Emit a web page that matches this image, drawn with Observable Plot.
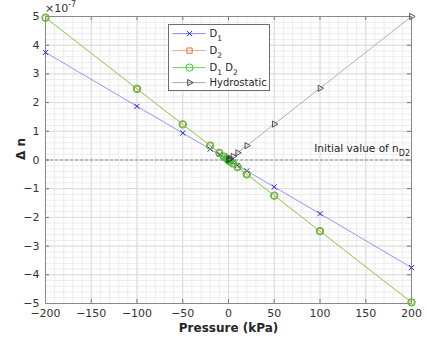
<!DOCTYPE html>
<html>
<head>
<meta charset="utf-8">
<script src="https://cdn.jsdelivr.net/npm/d3@7"></script>
<script src="https://cdn.jsdelivr.net/npm/@observablehq/plot@0.6"></script>
<style>
  html, body { margin: 0; padding: 0; background: #fff; }
  svg { display: block; }
</style>
</head>
<body>
<div id="chart"></div>
<script>
// Pressure in kPa; Δn values in units of 1e-7
const pressure = [-200, -100, -50, -20, -10, -5, -2, -1, 0, 1, 2, 5, 10, 20, 50, 100, 200];
const d1 =   [3.75, 1.87, 0.94, 0.38, 0.19, 0.09, 0.04, 0.02, 0, -0.02, -0.04, -0.09, -0.19, -0.38, -0.94, -1.87, -3.75];
const d2 =   [4.96, 2.48, 1.24, 0.50, 0.25, 0.12, 0.05, 0.025, 0, -0.025, -0.05, -0.12, -0.25, -0.50, -1.24, -2.48, -4.96];
const d1d2 = [4.96, 2.48, 1.24, 0.50, 0.25, 0.12, 0.05, 0.025, 0, -0.025, -0.05, -0.12, -0.25, -0.50, -1.24, -2.48, -4.96];
const hydroPressure = [0, 1, 2, 5, 10, 20, 50, 100, 200];
const hydro = [0, 0.025, 0.05, 0.125, 0.25, 0.5, 1.25, 2.5, 5.0];

const xTicks = [-200, -150, -100, -50, 0, 50, 100, 150, 200];
const yTicks = [-5, -4, -3, -2, -1, 0, 1, 2, 3, 4, 5];
const xMinor = d3.range(-200, 201, 10);
const yMinor = d3.range(-5, 5.001, 0.2).map(v => Math.round(v * 10) / 10);

const seriesNames = ["D1", "D2", "D1 D2", "Hydrostatic"];

// custom marker symbols
const symX = { draw(ctx, size) { const s = Math.sqrt(size / Math.PI) * 0.75;
  ctx.moveTo(-s, -s); ctx.lineTo(s, s); ctx.moveTo(-s, s); ctx.lineTo(s, -s); } };
const symSquare = { draw(ctx, size) { const s = Math.sqrt(size / Math.PI) * 0.78;
  ctx.moveTo(-s, -s); ctx.lineTo(s, -s); ctx.lineTo(s, s); ctx.lineTo(-s, s); ctx.closePath(); } };
const symCircle = { draw(ctx, size) { const r = Math.sqrt(size / Math.PI);
  ctx.moveTo(r, 0); ctx.arc(0, 0, r, 0, 2 * Math.PI); } };
const symTri = { draw(ctx, size) { const s = Math.sqrt(size / Math.PI);
  ctx.moveTo(s, 0); ctx.lineTo(-0.5 * s, -0.866 * s); ctx.lineTo(-0.5 * s, 0.866 * s); ctx.closePath(); } };

const styles = [
  { name: seriesNames[0], line: "#8a8aff", marker: "#2020f0", sym: symX, r: 3.4 },
  { name: seriesNames[1], line: "#f0a884", marker: "#e0703a", sym: symSquare, r: 3.4 },
  { name: seriesNames[2], line: "#6ad84a", marker: "#30d030", sym: symCircle, r: 3.6 },
  { name: seriesNames[3], line: "#a8a8a8", marker: "#404040", sym: symTri, r: 3.6 }
];

const mk = (xs, ys) => xs.map((x, i) => ({ x, y: ys[i] }));
const dataD1 = mk(pressure, d1);
const dataD2 = mk(pressure, d2);
const dataD1D2 = mk(pressure, d1d2);
const dataH = mk(hydroPressure, hydro);

const font = "DejaVu Sans, Verdana, sans-serif";

const plot = Plot.plot({
  width: 427,
  height: 343,
  marginLeft: 45,
  marginRight: 16,
  marginTop: 16,
  marginBottom: 40,
  style: { fontFamily: font, fontSize: "11px", color: "#333", background: "#fff" },
  x: { domain: [-200, 200] },
  y: { domain: [-5, 5] },
  marks: [
    Plot.ruleX(xMinor, { stroke: "#ececec", strokeWidth: 1 }),
    Plot.ruleY(yMinor, { stroke: "#ececec", strokeWidth: 1 }),
    Plot.ruleX(xTicks, { stroke: "#dcdcdc", strokeWidth: 1 }),
    Plot.ruleY(yTicks, { stroke: "#dcdcdc", strokeWidth: 1 }),
    Plot.ruleY([0], { stroke: "#8c8c8c", strokeDasharray: "3,2", strokeWidth: 1 }),
    // inward ticks
    Plot.ruleX(xTicks, { y1: -5, y2: -4.86, stroke: "#777" }),
    Plot.ruleX(xTicks, { y1: 5, y2: 4.86, stroke: "#777" }),
    Plot.ruleY(yTicks, { x1: -200, x2: -195.6, stroke: "#777" }),
    Plot.ruleY(yTicks, { x1: 200, x2: 195.6, stroke: "#777" }),
    Plot.frame({ stroke: "#8a8a8a" }),
    Plot.axisX(xTicks, { tickSize: 0, tickPadding: 6, label: null, fill: "#333" }),
    Plot.axisY(yTicks, { tickSize: 0, tickPadding: 6, label: null, fill: "#333" }),
    // series
    Plot.line(dataD1, { x: "x", y: "y", stroke: styles[0].line, strokeWidth: 0.9 }),
    Plot.dot(dataD1, { x: "x", y: "y", symbol: () => styles[0].sym, r: styles[0].r, stroke: styles[0].marker, fill: "none", strokeWidth: 1 }),
    Plot.line(dataD2, { x: "x", y: "y", stroke: styles[1].line, strokeWidth: 0.9 }),
    Plot.dot(dataD2, { x: "x", y: "y", symbol: () => styles[1].sym, r: styles[1].r, stroke: styles[1].marker, fill: "none", strokeWidth: 1 }),
    Plot.line(dataD1D2, { x: "x", y: "y", stroke: styles[2].line, strokeWidth: 0.9, strokeOpacity: 0.75 }),
    Plot.dot(dataD1D2, { x: "x", y: "y", symbol: () => styles[2].sym, r: styles[2].r, stroke: styles[2].marker, fill: "none", strokeWidth: 1.1 }),
    Plot.line(dataH, { x: "x", y: "y", stroke: styles[3].line, strokeWidth: 0.9 }),
    Plot.dot(dataH, { x: "x", y: "y", symbol: () => styles[3].sym, r: styles[3].r, stroke: styles[3].marker, fill: "none", strokeWidth: 0.9 }),
    // axis labels
    Plot.text(["Pressure (kPa)"], { frameAnchor: "bottom", dy: 28, text: d => d, fontWeight: "bold", fontSize: 12, fill: "#262626" }),
    Plot.text(["Δ n"], { frameAnchor: "left", dx: -24, rotate: -90, text: d => d, fontWeight: "bold", fontSize: 12, fill: "#262626" })
  ]
});

const svg = d3.select(plot);
const sx = plot.scale("x").apply, sy = plot.scale("y").apply;

// exponent label
const ex = svg.append("text").attr("x", sx(-200)).attr("y", sy(5) - 4)
  .attr("text-anchor", "start")
  .attr("font-family", font).attr("font-size", 11).attr("fill", "#333");
ex.append("tspan").text("×10");
ex.append("tspan").attr("dy", -5).attr("font-size", 8).text("-7");

// annotation
const an = svg.append("text").attr("x", sx(200) - 1).attr("y", sy(0) - 8)
  .attr("text-anchor", "end").attr("font-family", font).attr("font-size", 10.5).attr("fill", "#262626");
an.append("tspan").text("Initial value of n");
an.append("tspan").attr("dy", 4).attr("font-size", 8).text("D2");

// legend
const lg = svg.append("g").attr("font-family", font).attr("font-size", 10).attr("fill", "#262626")
  .attr("text-anchor", "start");
const lx = sx(-65), ly = sy(4.7);
lg.append("rect").attr("x", lx).attr("y", ly).attr("width", 101).attr("height", 66)
  .attr("fill", "#fff").attr("stroke", "#4a4a4a").attr("stroke-width", 0.8);
const rowY = [9, 26, 43, 58];
const labels = [["D", "1"], ["D", "2"], ["D", "1", " D", "2"], ["Hydrostatic"]];
styles.forEach((s, i) => {
  const y = ly + rowY[i];
  lg.append("line").attr("x1", lx + 4).attr("x2", lx + 37).attr("y1", y).attr("y2", y)
    .attr("stroke", s.line).attr("stroke-width", 1);
  lg.append("path").attr("transform", `translate(${lx + 21},${y})`)
    .attr("d", d3.symbol().type(s.sym).size(s.r * s.r * Math.PI)())
    .attr("fill", "none").attr("stroke", s.marker).attr("stroke-width", 1);
  const t = lg.append("text").attr("x", lx + 41).attr("y", y + 3.5).attr("text-anchor", "start");
  const parts = labels[i];
  if (parts.length === 1) t.append("tspan").text(parts[0]);
  else {
    for (let k = 0; k < parts.length; k += 2) {
      t.append("tspan").attr("dy", k === 0 ? 0 : -3.5).text(parts[k]);
      t.append("tspan").attr("dy", 3.5).attr("font-size", 7.5).text(parts[k + 1]);
    }
  }
});

document.getElementById("chart").appendChild(plot);
</script>
</body>
</html>
